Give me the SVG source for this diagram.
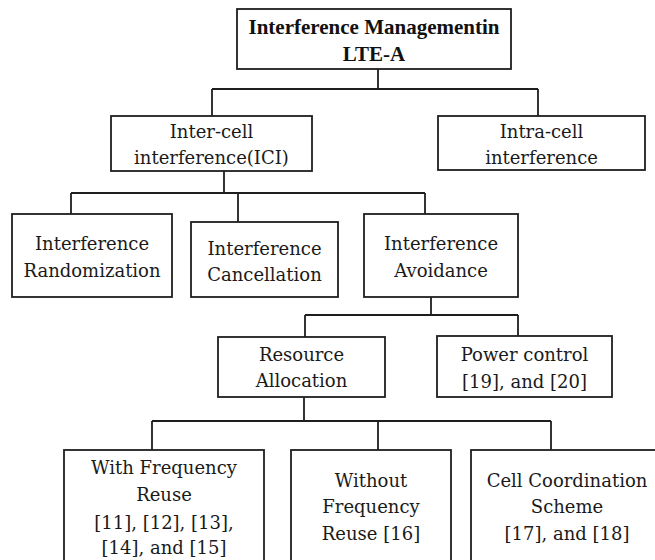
<svg xmlns="http://www.w3.org/2000/svg" width="655" height="560" viewBox="0 0 655 560">
<style>
.box{fill:#fff;stroke:#1e1e1e;stroke-width:1.8}
.ln{fill:none;stroke:#1e1e1e;stroke-width:1.8}
.lbl text{font-family:"DejaVu Serif",serif;font-size:18px;fill:#1a1a1a;text-anchor:middle}
.lbl text.t{font-family:"Liberation Serif","Times New Roman",serif;font-weight:bold;font-size:21px;fill:#111}
</style>
<rect width="655" height="560" fill="#fff"/>
<g id="connectors">
<path class="ln" d="M378 69V89M212 89H538M212 89V116M538 89V116"/>
<path class="ln" d="M224 171V193M71 193H425M71 193V214M238 193V222M425 193V214"/>
<path class="ln" d="M431 297V315M305 315H518M305 315V337M518 315V336"/>
<path class="ln" d="M304 397V421M152 421H551M152 421V450M378 421V450M551 421V450"/>
</g>
<g class="lbl">
<g id="root"><rect class="box" x="237" y="9" width="274" height="60"/><text class="t" x="374" y="34">Interference Managementin</text><text class="t" x="374" y="61">LTE-A</text></g>
<g id="ici"><rect class="box" x="111" y="116" width="201" height="55"/><text x="211.5" y="138">Inter-cell</text><text x="211.5" y="164">interference(ICI)</text></g>
<g id="intra"><rect class="box" x="438" y="116" width="207" height="54"/><text x="541.5" y="138">Intra-cell</text><text x="541.5" y="164">interference</text></g>
<g id="random"><rect class="box" x="12" y="214" width="160" height="83"/><text x="92" y="250">Interference</text><text x="92" y="277">Randomization</text></g>
<g id="cancel"><rect class="box" x="191" y="222" width="147" height="75"/><text x="264.5" y="255">Interference</text><text x="264.5" y="281">Cancellation</text></g>
<g id="avoid"><rect class="box" x="364" y="214" width="154" height="83"/><text x="441" y="250">Interference</text><text x="441" y="277">Avoidance</text></g>
<g id="resource"><rect class="box" x="218" y="337" width="167" height="60"/><text x="301.5" y="361">Resource</text><text x="301.5" y="387">Allocation</text></g>
<g id="power"><rect class="box" x="437" y="336" width="175" height="61"/><text x="524.5" y="361">Power control</text><text x="524.5" y="388">[19], and [20]</text></g>
<g id="withreuse"><rect class="box" x="64" y="450" width="200" height="120"/><text x="164" y="474">With Frequency</text><text x="164" y="501">Reuse</text><text x="164" y="529">[11], [12], [13],</text><text x="164" y="554">[14], and [15]</text></g>
<g id="withoutreuse"><rect class="box" x="291" y="450" width="160" height="120"/><text x="371" y="487">Without</text><text x="371" y="513">Frequency</text><text x="371" y="540">Reuse [16]</text></g>
<g id="coord"><rect class="box" x="471" y="450" width="200" height="120"/><text x="567" y="487">Cell Coordination</text><text x="567" y="513">Scheme</text><text x="567" y="540">[17], and [18]</text></g>
</g>
</svg>
